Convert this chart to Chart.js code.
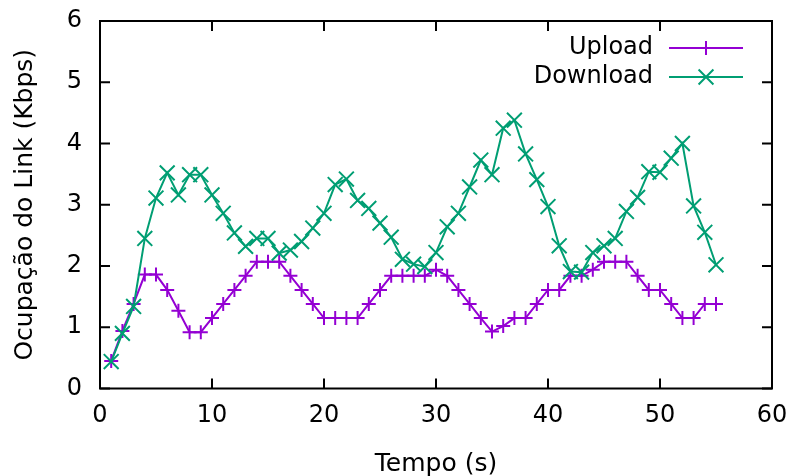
<!DOCTYPE html>
<html>
<head>
<meta charset="utf-8">
<title>Ocupação do Link</title>
<script src="https://cdn.jsdelivr.net/npm/chart.js@4.4.0/dist/chart.umd.min.js"></script>
<style>
    html, body { margin: 0; padding: 0; background: #fff; }
    #wrap { width: 795px; height: 476px; }
</style>
</head>
<body>
<div id="wrap"><canvas id="grafico"></canvas></div>
<script>
// Dados (tempo em s, ocupação em Kbps)
const tempo = [1, 2, 3, 4, 5, 6, 7, 8, 9, 10, 11, 12, 13, 14, 15, 16, 17, 18, 19, 20,
    21, 22, 23, 24, 25, 26, 27, 28, 29, 30, 31, 32, 33, 34, 35, 36, 37, 38, 39, 40,
    41, 42, 43, 44, 45, 46, 47, 48, 49, 50, 51, 52, 53, 54, 55];

const upload = [0.45, 0.94, 1.38, 1.86, 1.86, 1.61, 1.27, 0.92, 0.92, 1.15,
    1.38, 1.61, 1.84, 2.07, 2.07, 2.07, 1.84, 1.61, 1.38, 1.15,
    1.15, 1.15, 1.15, 1.38, 1.61, 1.84, 1.84, 1.84, 1.84, 1.94,
    1.84, 1.61, 1.38, 1.15, 0.93, 1.02, 1.15, 1.15, 1.38, 1.61,
    1.61, 1.84, 1.84, 1.94, 2.07, 2.07, 2.07, 1.84, 1.61, 1.61,
    1.38, 1.15, 1.15, 1.38, 1.38];

const download = [0.44, 0.90, 1.34, 2.45, 3.11, 3.52, 3.16, 3.49, 3.49, 3.16,
    2.86, 2.54, 2.32, 2.45, 2.45, 2.21, 2.26, 2.40, 2.62, 2.86,
    3.33, 3.42, 3.07, 2.94, 2.70, 2.47, 2.11, 2.03, 1.99, 2.22,
    2.64, 2.86, 3.29, 3.73, 3.49, 4.25, 4.38, 3.83, 3.41, 2.97,
    2.33, 1.91, 1.90, 2.22, 2.33, 2.45, 2.89, 3.12, 3.54, 3.53,
    3.76, 4.00, 2.98, 2.55, 2.02];

const ticksX = [0, 10, 20, 30, 40, 50, 60];
const ticksY = [0, 1, 2, 3, 4, 5, 6];

const corUpload = '#9400d3';
const corDownload = '#009e73';
const fonte = '"DejaVu Sans", sans-serif';

function pontos(valores) {
    return tempo.map((t, i) => ({ x: t, y: valores[i] }));
}

// moldura com marcas de escala para dentro (estilo gnuplot)
const moldura = {
    id: 'moldura',
    beforeDatasetsDraw(chart) {
        const { ctx, chartArea: a, scales: { x, y } } = chart;
        ctx.save();
        ctx.strokeStyle = '#000';
        ctx.lineWidth = 2;
        ctx.strokeRect(a.left, a.top, a.right - a.left, a.bottom - a.top);
        ctx.beginPath();
        x.ticks.forEach(t => {
            const px = x.getPixelForValue(t.value);
            ctx.moveTo(px, a.bottom); ctx.lineTo(px, a.bottom - 10);
            ctx.moveTo(px, a.top); ctx.lineTo(px, a.top + 10);
        });
        y.ticks.forEach(t => {
            const py = y.getPixelForValue(t.value);
            ctx.moveTo(a.left, py); ctx.lineTo(a.left + 10, py);
            ctx.moveTo(a.right, py); ctx.lineTo(a.right - 10, py);
        });
        ctx.stroke();
        ctx.restore();
    }
};

// legenda: texto à esquerda, amostra da linha à direita
const legenda = {
    id: 'legenda',
    afterDraw(chart) {
        const ctx = chart.ctx;
        ctx.save();
        ctx.font = '24px ' + fonte;
        ctx.textAlign = 'right';
        ctx.textBaseline = 'middle';
        chart.data.datasets.forEach((ds, i) => {
            const yy = 48 + i * 29;
            ctx.fillStyle = '#000';
            ctx.fillText(ds.label, 653, yy);
            ctx.strokeStyle = ds.borderColor;
            ctx.lineWidth = 2;
            ctx.beginPath();
            ctx.moveTo(669, yy);
            ctx.lineTo(743, yy);
            ctx.stroke();
            Chart.helpers.drawPoint(ctx, {
                pointStyle: ds.pointStyle,
                radius: ds.pointRadius,
                borderWidth: 2,
                rotation: 0
            }, 706, yy);
        });
        ctx.restore();
    }
};

function semPadding(s) {
    s.paddingTop = 0;
    s.paddingBottom = 0;
    s.paddingLeft = 0;
    s.paddingRight = 0;
}

const ctx = document.getElementById('grafico').getContext('2d');
new Chart(ctx, {
    type: 'line',
    data: {
        datasets: [
            {
                label: 'Upload',
                data: pontos(upload),
                borderColor: corUpload,
                backgroundColor: corUpload,
                borderWidth: 2,
                pointStyle: 'cross',
                pointRadius: 7,
                pointBorderWidth: 2,
                tension: 0,
                order: 2
            },
            {
                label: 'Download',
                data: pontos(download),
                borderColor: corDownload,
                backgroundColor: corDownload,
                borderWidth: 2,
                pointStyle: 'crossRot',
                pointRadius: 10.5,
                pointBorderWidth: 2,
                tension: 0,
                order: 1
            }
        ]
    },
    options: {
        responsive: true,
        maintainAspectRatio: false,
        animation: false,
        layout: {
            autoPadding: false,
            padding: { top: 21, right: 23, left: 0, bottom: 0 }
        },
        plugins: {
            legend: { display: false },
            tooltip: { enabled: false }
        },
        scales: {
            x: {
                type: 'linear',
                min: 0,
                max: 60,
                afterBuildTicks: s => { s.ticks = ticksX.map(v => ({ value: v })); },
                afterFit: s => { s.height = 87.5; semPadding(s); },
                grid: { display: false, drawTicks: false },
                border: { display: false },
                ticks: {
                    color: '#000',
                    padding: 13,
                    maxRotation: 0,
                    font: { family: fonte, size: 24 }
                },
                title: {
                    display: true,
                    text: 'Tempo (s)',
                    color: '#000',
                    padding: { top: 0, bottom: -3 },
                    font: { family: fonte, size: 25 }
                }
            },
            y: {
                min: 0,
                max: 6,
                afterBuildTicks: s => { s.ticks = ticksY.map(v => ({ value: v })); },
                afterFit: s => { s.width = 100; semPadding(s); },
                grid: { display: false, drawTicks: false },
                border: { display: false },
                ticks: {
                    color: '#000',
                    padding: 18,
                    font: { family: fonte, size: 24 }
                },
                title: {
                    display: true,
                    text: 'Ocupação do Link (Kbps)',
                    color: '#000',
                    padding: { top: 10, bottom: 0 },
                    font: { family: fonte, size: 25 }
                }
            }
        }
    },
    plugins: [moldura, legenda]
});
</script>
</body>
</html>
